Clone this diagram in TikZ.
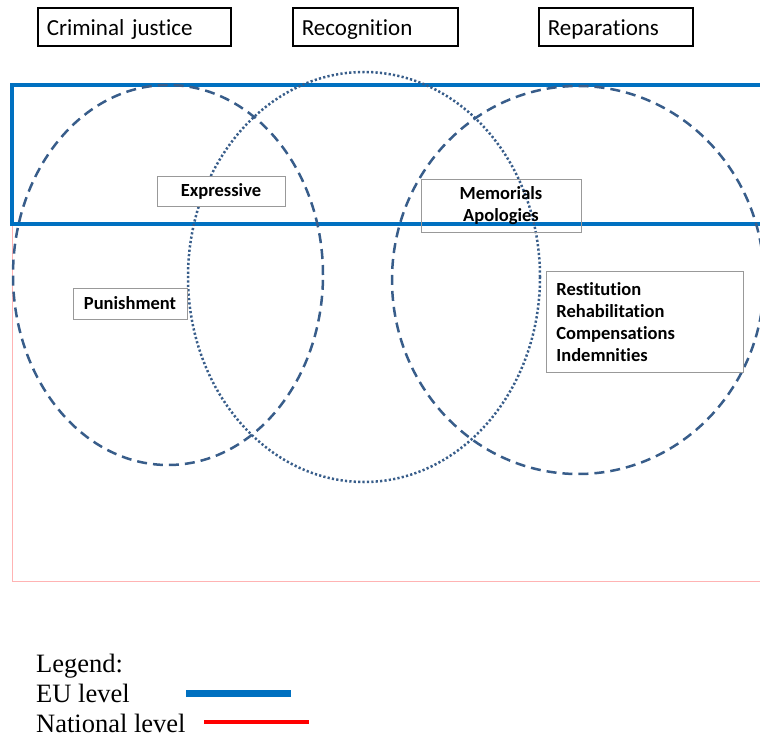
\documentclass[tikz,border=0pt]{standalone}
\usepackage{fontspec}
\setmainfont{Liberation Serif}
\newfontfamily\calibri[Ligatures=NoCommon]{Carlito}
\usepackage{tikz}
\usetikzlibrary{positioning}
\definecolor{eublue}{HTML}{0070C0}
\definecolor{ringblue}{HTML}{385D8A}
\definecolor{natpink}{HTML}{FFB3B3}

\begin{document}
\begin{tikzpicture}[
    x=1pt, y=-1pt,
    catbox/.style={draw, line width=1.6pt, anchor=north west, minimum height=38pt, inner xsep=9pt, text height=16.6pt, text depth=0pt, align=left, font=\calibri\fontsize{23}{27}\selectfont},
    labelbox/.style={draw=black!40, line width=0.8pt, align=center, font=\calibri\bfseries\fontsize{18.5}{22}\selectfont},
    dashedring/.style={draw=ringblue, line width=2.5pt, dash pattern=on 10pt off 6pt},
    dottedring/.style={draw=ringblue, line width=2.5pt, dash pattern=on 2.2pt off 2.2pt},
    legendtext/.style={anchor=base west, inner sep=0pt, font=\fontsize{26.5}{30}\selectfont}
]
\useasboundingbox (0,0) rectangle (760,738);
\clip (0,0) rectangle (760,738);

% Categories
\node[catbox, text width=175pt] (criminal) at (37,7) {Criminal justice};
\node[catbox, text width=147pt] (recognition) at (292,7) {Recognition};
\node[catbox, text width=136pt] (reparations) at (538,7) {Reparations};

% Levels
\draw[natpink, line width=1pt] (12,222) -- (12,581) -- (770,581);
\draw[eublue, line width=4pt] (770,85) -- (12,85) -- (12,224) -- (770,224);

% Rings
\draw[dashedring] (168,275) ellipse [x radius=155pt, y radius=190pt];
\draw[dottedring] (364,277) ellipse [x radius=176pt, y radius=205pt];
\draw[dashedring] (578,280) ellipse [x radius=186pt, y radius=194pt];

% Measures
\node[labelbox, fill=white, minimum width=128pt, minimum height=30pt] (expressive) at (221,191) {Expressive};
\node[labelbox, minimum width=160pt, minimum height=53pt] (memorials) at (501,205.5) {Memorials\\Apologies};
\node[labelbox, fill=white, minimum width=114pt, minimum height=31pt] (punishment) at (130,303.5) {Punishment};
\node[labelbox, anchor=north west, align=left, text width=177pt, minimum height=101pt, inner xsep=10pt] (restitution) at (546,271) {Restitution\\Rehabilitation\\Compensations\\Indemnities};

% Legend
\node[legendtext] (legend) at (36,672) {Legend:};
\node[legendtext] (eulevel) at (36,702) {EU level};
\node[legendtext] (natlevel) at (36,732) {National level};
\draw[eublue, line width=7pt] (186,693) -- (291,693);
\draw[red, line width=3.5pt] (204,722) -- (309,722);

\end{tikzpicture}
\end{document}
